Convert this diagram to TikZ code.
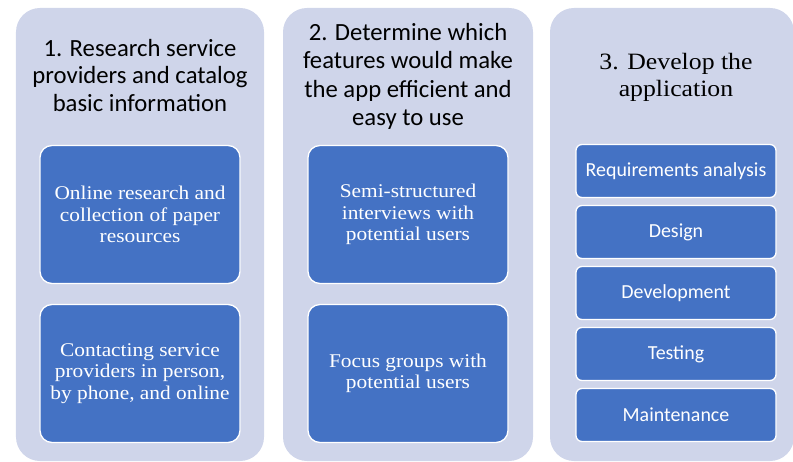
\documentclass[tikz,border=0pt]{standalone}
\usepackage{fontspec}
\newfontfamily\calib{Carlito}
\newfontfamily\camb[FakeStretch=1.1]{Liberation Serif}
\definecolor{laneFill}{HTML}{CFD5EA}
\definecolor{taskFill}{HTML}{4472C4}
\begin{document}
\begin{tikzpicture}[x=1bp,y=-1bp,
  lane/.style={fill=laneFill, draw=none, rounded corners=24bp, inner sep=0pt},
  bigtask/.style={fill=taskFill, draw=white, line width=1.3bp, rounded corners=12bp,
    minimum width=200bp, minimum height=138bp, inner sep=0pt, text=white,
    align=center, font=\camb\fontsize{19.5}{21.5}\selectfont},
  smalltask/.style={fill=taskFill, draw=white, line width=1.3bp, rounded corners=6bp,
    minimum width=200bp, minimum height=53bp, inner sep=0pt, text=white,
    align=center, font=\calib\fontsize{20}{22}\selectfont},
  heading/.style={align=center, inner sep=0pt, text=black}
]
\useasboundingbox (0,0) rectangle (793,462);

% three lanes
\node[lane, minimum width=248bp, minimum height=453bp] (lane1) at (140,234.5) {};
\node[lane, minimum width=250bp, minimum height=453bp] (lane2) at (408,234.5) {};
\node[lane, minimum width=244bp, minimum height=453bp] (lane3) at (672,234.5) {};

% lane headings
\node[heading, font=\calib\fontsize{24.8}{28}\selectfont] (head1) at (140,75.5)
  {1. Research service\\providers and catalog\\basic information};
\node[heading, font=\calib\fontsize{24.8}{28.3}\selectfont] (head2) at (408,76.5)
  {2. Determine which\\features would make\\the app efficient and\\easy to use};
\node[heading, font=\camb\fontsize{23.5}{27}\selectfont] (head3) at (676,77)
  {3. Develop the\\application};

% lane 1 tasks
\node[bigtask] (t11) at (140,214.5) {Online research and\\collection of paper\\resources};
\node[bigtask] (t12) at (140,373.5) {Contacting service\\providers in person,\\by phone, and online};

% lane 2 tasks
\node[bigtask] (t21) at (408,214.5) {Semi-structured\\interviews with\\potential users};
\node[bigtask] (t22) at (408,373.5) {Focus groups with\\potential users};

% lane 3 tasks
\node[smalltask] (t31) at (676,171) {Requirements analysis};
\node[smalltask] (t32) at (676,232) {Design};
\node[smalltask] (t33) at (676,293) {Development};
\node[smalltask] (t34) at (676,354) {Testing};
\node[smalltask] (t35) at (676,415) {Maintenance};
\end{tikzpicture}
\end{document}
